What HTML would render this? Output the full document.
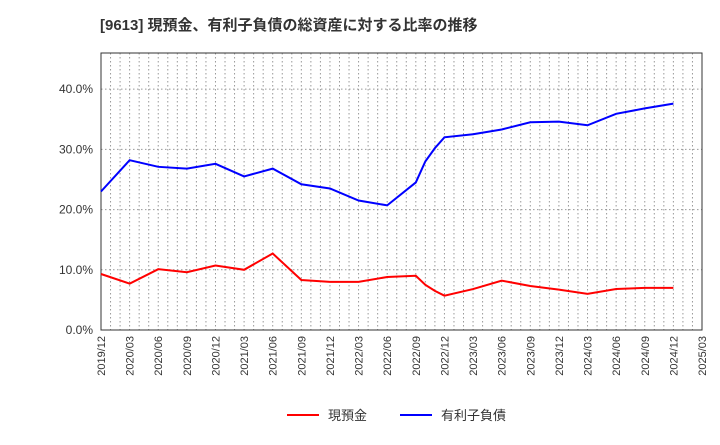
<!DOCTYPE html>
<html><head><meta charset="utf-8"><style>
body{margin:0;background:#fff;font-family:"Liberation Sans","Noto Sans CJK JP",sans-serif;}
svg text{font-family:"Liberation Sans","Noto Sans CJK JP",sans-serif;}
</style></head><body>
<svg id="c" width="720" height="440" xmlns="http://www.w3.org/2000/svg">
<text x="100" y="30" font-size="15" font-weight="bold" fill="#333">[9613]  現預金、有利子負債の総資産に対する比率の推移</text>
<g id="grid"></g><g id="axes"></g><g id="series"></g>
<g>
<line x1="287" y1="415" x2="319" y2="415" stroke="#f00" stroke-width="2"/>
<text x="328" y="420" font-size="13" fill="#333">現預金</text>
<line x1="400" y1="415" x2="432" y2="415" stroke="#00f" stroke-width="2"/>
<text x="441" y="420" font-size="13" fill="#333">有利子負債</text>
</g>
</svg>
<script>
const tickLabels=["2019/12","2020/03","2020/06","2020/09","2020/12","2021/03","2021/06","2021/09","2021/12","2022/03","2022/06","2022/09","2022/12","2023/03","2023/06","2023/09","2023/12","2024/03","2024/06","2024/09","2024/12","2025/03"];
const yTicks=[0,10,20,30,40];
const months=[0,3,6,9,12,15,18,21,24,27,30,33,34,35,36,39,42,45,48,51,54,57,60];
const debt=[23.0,28.2,27.1,26.8,27.6,25.5,26.8,24.2,23.5,21.5,20.7,24.5,28.0,30.2,32.0,32.5,33.3,34.5,34.6,34.0,35.9,36.8,37.6];
const cash=[9.3,7.7,10.1,9.6,10.7,10.0,12.7,8.3,8.0,8.0,8.8,9.0,7.5,6.5,5.7,6.8,8.2,7.3,6.7,6.0,6.8,7.0,7.0];
const L=101,R=702,T=53,B=330,NM=63,YMAX=46;
const X=m=>L+(R-L)*m/NM, Y=v=>B-(B-T)*v/YMAX;
const NS="http://www.w3.org/2000/svg";
function mk(t,a,p){const e=document.createElementNS(NS,t);for(const k in a)e.setAttribute(k,a[k]);p.appendChild(e);return e;}
const g=document.getElementById('grid'),ax=document.getElementById('axes'),s=document.getElementById('series');
for(let m=1;m<NM;m++){const l=mk('line',{x1:X(m),x2:X(m),y1:T,y2:B,stroke:'#999','stroke-dasharray':'1.5,2.5','stroke-width':1},g);

}
yTicks.forEach(v=>{const l=mk('line',{x1:L,x2:R,y1:Y(v),y2:Y(v),stroke:'#999','stroke-dasharray':'1.5,2.5'},g);


const t=mk('text',{x:L-8,y:Y(v)+4,'font-size':12,'text-anchor':'end',fill:'#333'},ax);t.textContent=v.toFixed(1)+'%';

});
const f=mk('rect',{x:L,y:T,width:R-L,height:B-T,fill:'none',stroke:'#333'},ax);


tickLabels.forEach((lb,i)=>{const x=X(i*3);const t=mk('text',{x:x+4,y:B+6,'font-size':11,'text-anchor':'end',fill:'#333',transform:`rotate(-90 ${x+4} ${B+6})`},ax);t.textContent=lb;

});
function line(d,c,n){const p=mk('polyline',{points:d.map((v,i)=>X(months[i])+','+Y(v)).join(' '),fill:'none',stroke:c,'stroke-width':2},s);

}
line(cash,'#f00','cash-line');line(debt,'#00f','debt-line');
</script>
</body></html>
